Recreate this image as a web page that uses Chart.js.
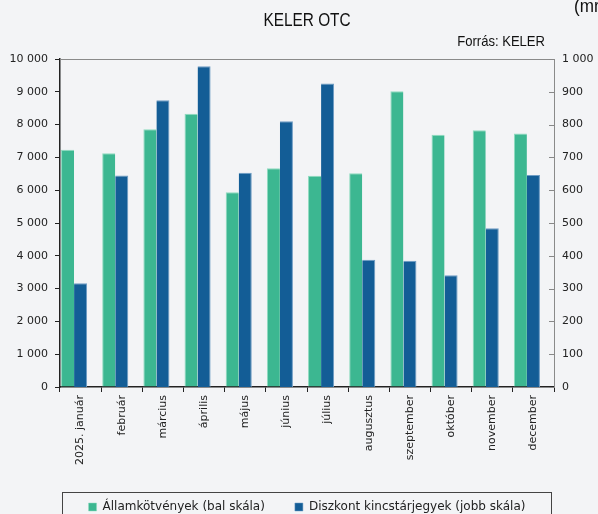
<!DOCTYPE html>
<html>
<head>
<meta charset="utf-8">
<script src="https://cdn.jsdelivr.net/npm/chart.js@4/dist/chart.umd.min.js"></script>
<style>
  html, body { margin: 0; padding: 0; background: #f3f4f6; }
  #wrap { width: 598px; height: 514px; }
</style>
</head>
<body>
<div id="wrap"><canvas id="c" width="598" height="514"></canvas></div>
<script>
const months = ['2025. január','február','március','április','május','június','július','augusztus','szeptember','október','november','december'];
// Államkötvények (bal skála)
const bonds = [7230, 7130, 7860, 8330, 5940, 6670, 6440, 6520, 9020, 7690, 7830, 7730];
// Diszkont kincstárjegyek (jobb skála)
const tbills = [316, 645, 874, 978, 653, 810, 925, 388, 385, 341, 484, 646];
const leftMax = 10000, leftStep = 1000;
const rightMax = 1000, rightStep = 100;

const fmt = v => String(v).replace(/\B(?=(\d{3})+(?!\d))/g, ' ');
const tickFont = { family: '"DejaVu Sans", Tahoma, sans-serif', size: 11 };
const ink = '#222';
const headFamily = '"Liberation Sans", Arial, sans-serif';

// narrow-ish text: draw with horizontal squeeze
function squeezed(ctx, txt, x, y, size, align, sx) {
  ctx.save();
  ctx.font = size + 'px ' + headFamily;
  ctx.textAlign = align;
  ctx.translate(x, y);
  ctx.scale(sx, 1);
  ctx.fillText(txt, 0, 0);
  ctx.restore();
}

const decor = {
  id: 'decor',
  beforeDraw(c) {
    const ctx = c.ctx;
    ctx.save();
    ctx.fillStyle = '#f3f4f6';
    ctx.fillRect(0, 0, c.width, c.height);
    ctx.restore();
  },
  afterLayout(c) {
    // centre the legend row on the plot instead of the canvas
    c.legend.left += 16;
  },
  afterDraw(c) {
    const { ctx, chartArea: a } = c;
    ctx.save();
    // top + right frame of plot
    ctx.strokeStyle = '#8a8a8a'; ctx.lineWidth = 1;
    ctx.beginPath();
    ctx.moveTo(a.left, a.top + 0.5); ctx.lineTo(a.right + 0.5, a.top + 0.5); ctx.lineTo(a.right + 0.5, a.bottom);
    ctx.stroke();
    // inward ticks on right axis
    ctx.strokeStyle = '#888';
    const yR = c.scales.yR;
    ctx.beginPath();
    yR.ticks.forEach(t => {
      const y = Math.round(yR.getPixelForValue(t.value)) + 0.5;
      ctx.moveTo(a.right - 5, y); ctx.lineTo(a.right, y);
    });
    ctx.stroke();
    // titles
    ctx.fillStyle = '#111';
    ctx.textBaseline = 'alphabetic';
    squeezed(ctx, 'KELER OTC', (a.left + a.right) / 2, 26, 19, 'center', 0.81);
    squeezed(ctx, 'Forrás: KELER', 545, 46, 15, 'right', 0.87);
    squeezed(ctx, '(mrd Ft)', 574, 12, 19, 'left', 0.9);
    // legend frame
    ctx.strokeStyle = '#444';
    ctx.strokeRect(62.5, 492.5, 489, 40);
    ctx.restore();
  }
};

new Chart(document.getElementById('c'), {
  type: 'bar',
  data: {
    labels: months,
    datasets: [
      { label: 'Államkötvények (bal skála)', data: bonds, yAxisID: 'yL',
        backgroundColor: '#3cb791', borderColor: '#8fdcc0', borderWidth: { top: 1, left: 1, right: 0, bottom: 0 } },
      { label: 'Diszkont kincstárjegyek (jobb skála)', data: tbills, yAxisID: 'yR',
        backgroundColor: '#135d96', borderColor: '#6e9cc4', borderWidth: { top: 1, right: 1, left: 0, bottom: 0 } },
      { label: '', data: months.map(() => null), yAxisID: 'yR', backgroundColor: 'rgba(0,0,0,0)' }
    ]
  },
  options: {
    responsive: false,
    animation: false,
    layout: { padding: { top: 59, left: 0, right: 0, bottom: -9 } },
    datasets: { bar: { categoryPercentage: 0.95, barPercentage: 1 } },
    plugins: {
      legend: {
        position: 'bottom',
        labels: {
          font: { family: tickFont.family, size: 12 }, color: ink, boxWidth: 8, boxHeight: 8, padding: 30,
          filter: item => item.text !== ''
        }
      },
      tooltip: { enabled: false }
    },
    scales: {
      x: {
        grid: { display: true, drawOnChartArea: false, offset: true, tickLength: 5, color: '#222' },
        border: { color: '#222', width: 1.5 },
        ticks: { font: tickFont, color: ink, minRotation: 90, maxRotation: 90, padding: 3, autoSkip: false },
        afterFit: s => { s.height = 84; }
      },
      yL: {
        position: 'left', min: 0, max: leftMax,
        grid: { display: true, drawOnChartArea: false, tickLength: 5, color: '#222' },
        border: { color: '#222', width: 1.5 },
        ticks: { stepSize: leftStep, font: tickFont, color: ink, padding: 7, callback: v => fmt(v) },
        afterFit: s => { s.width = 60; }
      },
      yR: {
        position: 'right', min: 0, max: rightMax,
        grid: { display: false, drawOnChartArea: false, tickLength: 0 },
        border: { color: '#888', width: 1 },
        ticks: { stepSize: rightStep, font: tickFont, color: ink, padding: 8, callback: v => fmt(v) },
        afterFit: s => { s.width = 44; }
      }
    }
  },
  plugins: [decor]
});
</script>
</body>
</html>
